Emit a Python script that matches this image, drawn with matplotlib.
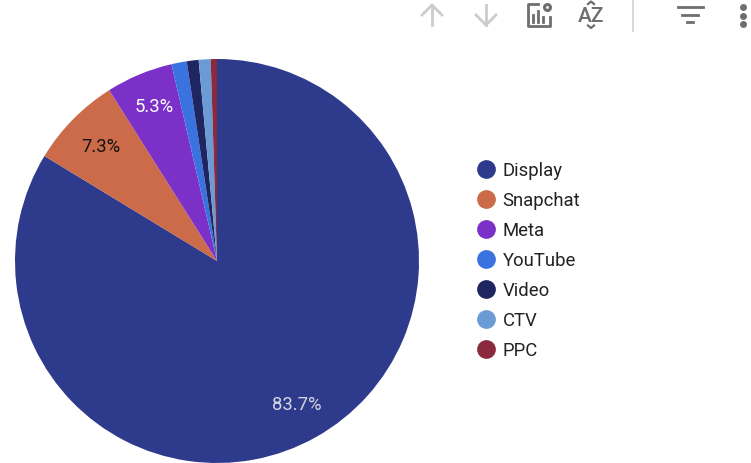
import matplotlib
matplotlib.use("Agg")
import matplotlib.pyplot as plt
from matplotlib.lines import Line2D

plt.rcParams["font.family"] = ["Roboto", "DejaVu Sans"]

channels = ["Display", "Snapchat", "Meta", "YouTube", "Video", "CTV", "PPC"]
shares = [83.7, 7.34, 5.34, 1.22, 0.95, 0.95, 0.5]
colors = ["#2e3b8c", "#cb6b4a", "#7b30c8", "#3a72e0", "#1f2560", "#6a9bd4", "#8a2a3c"]
label_colors = ["#d5d5e0", "#111111", "#ffffff", "none", "none", "none", "none"]

W, H = 751, 464
fig = plt.figure(figsize=(W / 100, H / 100), dpi=100)

# pie axes sits on pixel box around centre (217, 262), radius 202
R = 202
cx, cy = 217, 262
ax = fig.add_axes([(cx - R) / W, 1 - (cy + R) / H, 2 * R / W, 2 * R / H])
wedges, _, autotexts = ax.pie(
    shares, colors=colors, startangle=90, counterclock=False, radius=1,
    autopct=lambda p: f"{p:.1f}%" if p > 5 else "", pctdistance=0.81,
    wedgeprops={"linewidth": 0},
)
for t, c in zip(autotexts, label_colors):
    t.set_color(c)
    t.set_fontsize(13.3)
# the Meta label sits a little further out in the original
mx, my = autotexts[2].get_position()
autotexts[2].set_position((mx, my + 4 / R))
ax.set_xlim(-1, 1)
ax.set_ylim(-1, 1)

handles = [Line2D([], [], linestyle="none", marker="o", markersize=13.5,
                  markerfacecolor=c, markeredgewidth=0) for c in colors]
fig.legend(handles, channels, loc="center left", bbox_to_anchor=(456 / W, 1 - 261 / H),
           frameon=False, fontsize=13.3, labelspacing=0.65, handletextpad=0.12,
           handlelength=1.5, labelcolor="#222222")

# toolbar icons, drawn in pixel coordinates
ov = fig.add_axes([0, 0, 1, 1], facecolor="none")
ov.set_xlim(0, W)
ov.set_ylim(H, 0)
ov.axis("off")
light = "#cccccc"
dark = "#6e6e6e"
for x, tip, tail, wing in [(432, 6, 26, 16), (486, 26, 6, 16)]:
    ov.plot([x, x], [tip, tail], color=light, lw=2)
    ov.plot([x - 10, x, x + 10], [wing, tip, wing], color=light, lw=2)

ov.plot([538, 528, 528, 550, 550], [5, 5, 27, 27, 18], color=dark, lw=2)
for x, top in [(533, 16), (538, 12), (543, 18)]:
    ov.plot([x, x], [top, 23], color=dark, lw=2)
ov.plot([547], [8], marker="o", markersize=6.5, color=dark, markeredgewidth=0)
ov.plot([547], [8], marker="o", markersize=2, color="white", markeredgewidth=0)

ov.text(591.5, 16, "AZ", color=dark, fontsize=15, fontweight="medium", ha="center", va="center")
ov.plot([588, 591, 594], [5, 2.5, 5], color=dark, lw=1.6)
ov.plot([588, 591, 594], [26.5, 29, 26.5], color=dark, lw=1.6)

ov.plot([632.5, 632.5], [0, 32], color="#cfcfcf", lw=1.2)

for half, y in [(12.5, 8), (8, 16), (3, 22.5)]:
    ov.plot([690 - half, 690 + half], [y, y], color=dark, lw=2)
for y in [8, 17, 25]:
    ov.plot([743], [y], marker="o", markersize=5, color=dark, markeredgewidth=0)

fig.savefig("out.png", dpi=100)
